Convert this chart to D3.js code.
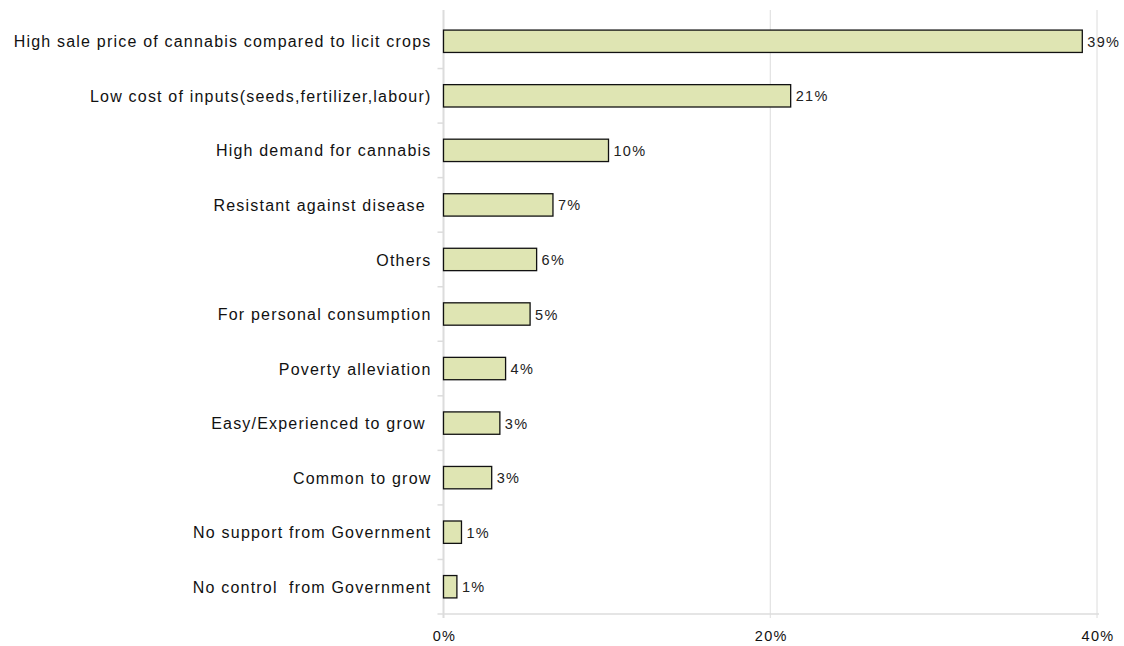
<!DOCTYPE html>
<html><head><meta charset="utf-8">
<script src="https://cdn.jsdelivr.net/npm/d3@7"></script>
<style>
body{margin:0;background:#fff;}
svg text{font-family:"Liberation Sans",Arial,sans-serif;white-space:pre;}
</style></head>
<body><svg id="c" width="1124" height="646"></svg>
<script>
const categories = [
  "High sale price of cannabis compared to licit crops",
  "Low cost of inputs(seeds,fertilizer,labour)",
  "High demand for cannabis",
  "Resistant against disease ",
  "Others",
  "For personal consumption",
  "Poverty alleviation",
  "Easy/Experienced to grow ",
  "Common to grow",
  "No support from Government",
  "No control  from Government"
];
const values = [39.1, 21.25, 10.1, 6.7, 5.7, 5.3, 3.8, 3.45, 2.95, 1.1, 0.82];
const valueLabels = ["39%","21%","10%","7%","6%","5%","4%","3%","3%","1%","1%"];
const xTicks = [0, 20, 40];
const xTickLabels = ["0%","20%","40%"];

(function(){
const svg = d3.select("#c");
const pL = 443.5, pR = 1097, pT = 14, pB = 614;
const x = d3.scaleLinear().domain([0, 40]).range([pL, pR]);
const y = d3.scaleBand().domain(categories).range([pT, pB]).paddingInner(0.59).paddingOuter(0.295);
const gap = (y.step() - y.bandwidth()) / 2;

// gridlines
svg.append("g").selectAll("line").data(xTicks.slice(1)).join("line")
  .attr("x1", d => x(d)).attr("x2", d => x(d))
  .attr("y1", pT - 4).attr("y2", pB + 4)
  .attr("stroke", "#dcdcdc").attr("stroke-width", 1);

// y axis line
svg.append("line").attr("x1", pL).attr("x2", pL).attr("y1", pT - 4).attr("y2", pB + 4)
  .attr("stroke", "#dcdcdc").attr("stroke-width", 2);
// x axis line
svg.append("line").attr("x1", pL - 6).attr("x2", pR + 2).attr("y1", pB).attr("y2", pB)
  .attr("stroke", "#dcdcdc").attr("stroke-width", 1.5);

// category separator ticks
svg.append("g").selectAll("line").data(categories.slice(1)).join("line")
  .attr("x1", pL - 6).attr("x2", pL)
  .attr("y1", d => y(d) - gap).attr("y2", d => y(d) - gap)
  .attr("stroke", "#dcdcdc").attr("stroke-width", 1.5);

// bars
svg.append("g").selectAll("rect").data(values).join("rect")
  .attr("x", x(0)).attr("y", (d, i) => y(categories[i]))
  .attr("width", d => x(d) - x(0)).attr("height", y.bandwidth())
  .attr("fill", "#dfe5b3").attr("stroke", "#111").attr("stroke-width", 1.3);

// value labels
svg.append("g").selectAll("text").data(values).join("text")
  .attr("x", d => x(d) + 5).attr("y", (d, i) => y(categories[i]) + y.bandwidth() / 2)
  .attr("dy", "0.38em").attr("font-size", 14.5).attr("letter-spacing", 1.3).attr("fill", "#222")
  .text((d, i) => valueLabels[i]);

// category labels
svg.append("g").selectAll("text").data(categories).join("text")
  .attr("x", pL - 12).attr("y", d => y(d) + y.bandwidth() / 2)
  .attr("dy", "0.38em").attr("text-anchor", "end").attr("font-size", 16)
  .attr("letter-spacing", 1.2).attr("fill", "#111")
  .text(d => d);

// x tick labels
svg.append("g").selectAll("text").data(xTicks).join("text")
  .attr("x", d => x(d) + 1).attr("y", 641).attr("text-anchor", "middle")
  .attr("font-size", 14.5).attr("letter-spacing", 1.3).attr("fill", "#111")
  .text((d, i) => xTickLabels[i]);
})();
</script></body></html>
